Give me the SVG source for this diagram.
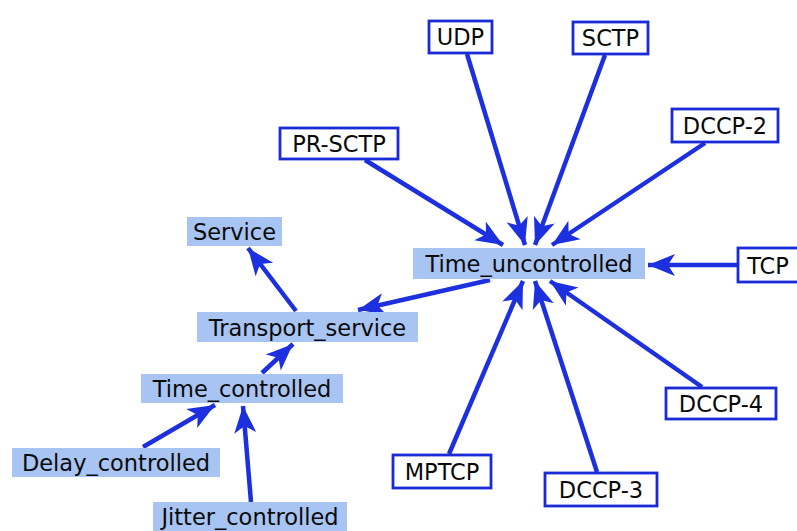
<svg xmlns="http://www.w3.org/2000/svg" width="797" height="531" viewBox="0 0 797 531">
<style>
.bg{fill:#ffffff}
.fn rect{fill:#a8c4f3;stroke:none}
.bn rect{fill:#ffffff;stroke:#1a2ad6;stroke-width:2.8}
text{font-family:"DejaVu Sans",sans-serif;font-size:22.5px;fill:#0a0a0a;text-anchor:middle}
.e line{stroke:#1c30e0;stroke-width:4.5;marker-end:url(#ah)}
</style>
<defs>
<marker id="ah" markerUnits="userSpaceOnUse" viewBox="-28 -12 30 24" refX="0" refY="0" markerWidth="30" markerHeight="24" orient="auto">
<path d="M0,0 L-27,-11 L-20,0 L-27,11 Z" fill="#1c30e0"/>
</marker>
</defs>
<rect class="bg" x="0" y="0" width="797" height="531"/>
<g class="e" id="connectors">
<line x1="467" y1="54" x2="525" y2="245"/>
<line x1="605" y1="55" x2="535" y2="245"/>
<line x1="365" y1="160" x2="503" y2="245"/>
<line x1="705" y1="143" x2="552" y2="245"/>
<line x1="738" y1="265" x2="648" y2="265"/>
<line x1="702" y1="387" x2="550" y2="281"/>
<line x1="597" y1="472" x2="535" y2="281"/>
<line x1="449" y1="454" x2="523" y2="281"/>
<line x1="490" y1="280" x2="358" y2="310"/>
<line x1="296" y1="311" x2="248" y2="248"/>
<line x1="262" y1="373" x2="293" y2="344"/>
<line x1="143" y1="447" x2="215" y2="405"/>
<line x1="251" y1="502" x2="243" y2="406"/>
</g>
<g id="Time_uncontrolled" class="fn"><rect x="413" y="248" width="232" height="31"/><text x="529" y="272">Time_uncontrolled</text></g>
<g id="Service" class="fn"><rect x="187" y="217" width="95" height="29"/><text x="234.5" y="240">Service</text></g>
<g id="Transport_service" class="fn"><rect x="197" y="312" width="221" height="30"/><text x="307.5" y="336">Transport_service</text></g>
<g id="Time_controlled" class="fn"><rect x="141" y="374" width="202" height="29"/><text x="242" y="397">Time_controlled</text></g>
<g id="Delay_controlled" class="fn"><rect x="12" y="448" width="208" height="29"/><text x="116" y="471">Delay_controlled</text></g>
<g id="Jitter_controlled" class="fn"><rect x="153" y="502" width="194" height="29"/><text x="250" y="525">Jitter_controlled</text></g>
<g id="UDP" class="bn"><rect x="429" y="21" width="63" height="32"/><text x="460.5" y="45">UDP</text></g>
<g id="SCTP" class="bn"><rect x="573" y="22" width="75" height="32"/><text x="610.5" y="46">SCTP</text></g>
<g id="PR-SCTP" class="bn"><rect x="280" y="128" width="118" height="31"/><text x="339" y="152">PR-SCTP</text></g>
<g id="DCCP-2" class="bn"><rect x="672" y="109" width="106" height="33"/><text x="725" y="134">DCCP-2</text></g>
<g id="TCP" class="bn"><rect x="738" y="248" width="62" height="34"/><text x="768" y="274">TCP</text></g>
<g id="DCCP-4" class="bn"><rect x="666" y="388" width="110" height="31"/><text x="721" y="412">DCCP-4</text></g>
<g id="MPTCP" class="bn"><rect x="393" y="455" width="98" height="33"/><text x="442" y="480">MPTCP</text></g>
<g id="DCCP-3" class="bn"><rect x="545" y="473" width="112" height="33"/><text x="601" y="498">DCCP-3</text></g>
</svg>
